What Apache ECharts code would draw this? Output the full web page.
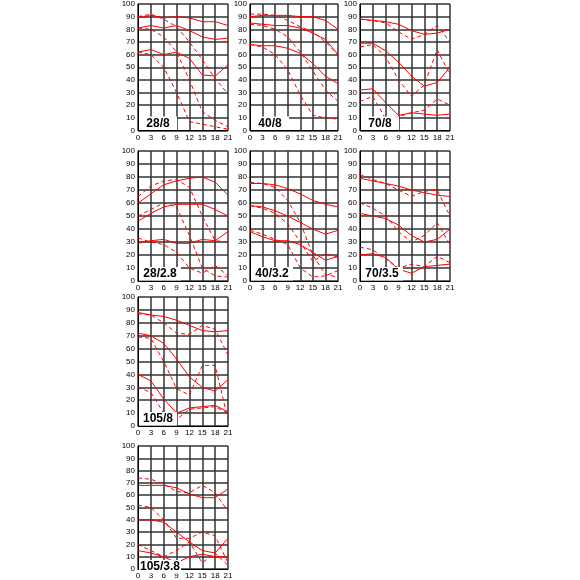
<!DOCTYPE html>
<html>
<head>
<meta charset="utf-8">
<script src="https://cdn.jsdelivr.net/npm/echarts@6/dist/echarts.min.js"></script>
<style>
html,body{margin:0;padding:0;background:#fff;}
#chart{width:580px;height:580px;}
</style>
</head>
<body>
<div id="chart"></div>
<script>
const xs = [0, 3, 6, 9, 12, 15, 18, 21];
const xTicks = [0, 3, 6, 9, 12, 15, 18, 21];
const yTicks = [0, 10, 20, 30, 40, 50, 60, 70, 80, 90, 100];
const labels = ['28/8', '40/8', '70/8', '28/2.8', '40/3.2', '70/3.5', '105/8', '105/3.8'];

// solid curves (3 per panel) and dashed curves (3 per panel)
const p28_8_solid = [[89,91,89,90,89,86,86,83],[81,83,81,83,79,74,72,73],[62,64,60,62,57,44,43,52]];
const p28_8_dash  = [[90,92,88,82,70,56,41,29],[81,80,74,62,40,15,8,3],[62,60,50,30,7,5,3,1]];
const p40_8_solid = [[90,91,91,91,90,90,87,80],[85,84,83,83,81,77,72,60],[68,67,67,65,61,53,43,37]];
const p40_8_dash  = [[92,92,91,87,82,78,70,60],[84,83,80,74,62,47,32,23],[68,66,60,48,28,12,10,9]];
const p70_8_solid = [[88,87,86,84,79,76,77,80],[69,69,63,54,43,35,38,50],[32,33,22,12,14,13,12,13]];
const p70_8_dash  = [[88,87,85,78,72,76,83,70],[66,68,58,40,27,36,64,44],[23,27,9,11,14,16,25,20]];
const p28_28_solid = [[60,67,74,77,79,80,76,66],[46,52,57,59,59,59,55,50],[29,31,32,29,29,32,31,38]];
const p28_28_dash  = [[65,73,77,78,72,50,31,30],[50,55,60,57,35,10,4,3],[33,30,28,22,10,6,12,4]];
const p40_32_solid = [[75,75,74,71,67,62,59,57],[58,57,54,50,45,40,36,39],[38,34,31,31,28,22,16,19]];
const p40_32_dash  = [[76,75,72,62,45,20,5,3],[58,56,52,44,30,15,21,18],[39,36,32,28,10,3,4,8]];
const p70_35_solid = [[79,77,75,73,70,68,66,65],[52,50,48,43,35,30,32,40],[20,21,18,9,6,11,12,13]];
const p70_35_dash  = [[82,78,75,70,65,69,70,50],[60,56,50,38,30,35,45,28],[26,24,17,10,13,11,19,14]];
const p105_8_solid = [[88,86,85,82,78,74,73,74],[72,70,64,52,38,30,27,36],[40,35,21,10,14,15,16,11]];
const p105_8_dash  = [[87,86,80,72,71,78,75,55],[69,68,50,29,24,47,47,5],[30,26,10,5,13,14,15,10]];
const p105_38_solid = [[68,68,68,66,61,58,58,65],[40,40,38,30,22,15,13,25],[15,13,10,5,10,12,10,10]];
const p105_38_dash  = [[74,73,69,63,62,68,62,47],[52,50,40,25,25,30,27,5],[20,15,10,15,22,5,13,3]];

const panelSolid = [p28_8_solid, p40_8_solid, p70_8_solid, p28_28_solid, p40_32_solid, p70_35_solid, p105_8_solid, p105_38_solid];
const panelDash  = [p28_8_dash, p40_8_dash, p70_8_dash, p28_28_dash, p40_32_dash, p70_35_dash, p105_8_dash, p105_38_dash];
const panelPos = [[0,0],[0,1],[0,2],[1,0],[1,1],[1,2],[2,0],[3,0]];

const colLeft = [138, 250, 360];
const colWidth = [90, 88, 90];
const rowTop = [3.5, 151, 297, 446];
const rowHeight = [127, 130, 129, 128];

const grids = [], xAxes = [], yAxes = [], series = [], graphics = [];
const font = 'Liberation Sans, Arial, sans-serif';

panelPos.forEach(([r, c], i) => {
  grids.push({left: colLeft[c], top: rowTop[r], width: colWidth[c], height: rowHeight[r], show: false, containLabel: false});
  xAxes.push({
    type: 'value', gridIndex: i, min: 0, max: 21, interval: 3,
    axisLine: {show: true, onZero: false, lineStyle: {color: '#000', width: 1}},
    axisTick: {show: false},
    axisLabel: {show: true, fontSize: 8, color: '#000', margin: 3, fontFamily: font, showMinLabel: true, showMaxLabel: true},
    splitLine: {show: true, lineStyle: {color: '#333', width: 1.5}}
  });
  yAxes.push({
    type: 'value', gridIndex: i, min: 0, max: 100, interval: 10,
    axisLine: {show: true, onZero: false, lineStyle: {color: '#000', width: 1}},
    axisTick: {show: false},
    axisLabel: {show: true, fontSize: 8, color: '#000', margin: 3, fontFamily: font},
    splitLine: {show: true, lineStyle: {color: '#333', width: 1.5}}
  });
  panelSolid[i].forEach(vals => {
    series.push({type: 'line', xAxisIndex: i, yAxisIndex: i, data: xs.map((x, k) => [x, vals[k]]),
      symbol: 'none', silent: true, animation: false,
      lineStyle: {color: '#ff0000', width: 1, type: 'solid'}});
  });
  panelDash[i].forEach(vals => {
    series.push({type: 'line', xAxisIndex: i, yAxisIndex: i, data: xs.map((x, k) => [x, vals[k]]),
      symbol: 'none', silent: true, animation: false,
      lineStyle: {color: '#ff0000', width: 1, type: [4, 3]}});
  });
  const bx = colLeft[c] + 1;
  const by = rowTop[r] + rowHeight[r] - 14;
  const bw = labels[i].length > 5 ? 42 : 38;
  graphics.push({type: 'rect', z: 100, shape: {x: bx, y: by, width: bw, height: 13.5}, style: {fill: '#fff'}});
  graphics.push({type: 'text', z: 101, x: bx + bw / 2, y: by + 7,
    style: {text: labels[i], fill: '#000', font: 'bold 12px ' + font, align: 'center', verticalAlign: 'middle'}});
});

const chart = echarts.init(document.getElementById('chart'), null, {renderer: 'canvas'});
chart.setOption({
  animation: false,
  backgroundColor: '#fff',
  grid: grids,
  xAxis: xAxes,
  yAxis: yAxes,
  series: series,
  graphic: graphics
});
</script>
</body>
</html>
